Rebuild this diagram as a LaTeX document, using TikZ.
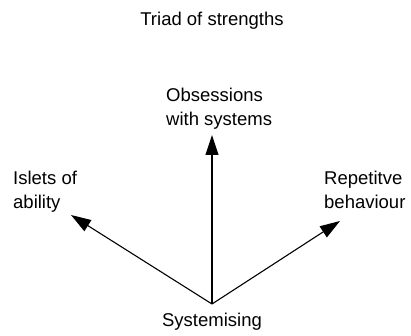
\documentclass[tikz,border=0pt]{standalone}
\usepackage{fontspec}
\setmainfont{Liberation Sans}
\usetikzlibrary{arrows.meta}
\begin{document}
\begin{tikzpicture}[x=1pt,y=1pt,
  lbl/.style={inner sep=0pt, align=left, font=\fontsize{18.5}{24}\selectfont},
  arr/.style={line width=1.1pt, -{Triangle[length=20pt,width=13pt]}}]
\useasboundingbox (0,0) rectangle (411,336);
\node[lbl, anchor=base] (title) at (212,310) {Triad of strengths};
\node[lbl, anchor=north west] (obs) at (166,248) {Obsessions\\with systems};
\node[lbl, anchor=north west] (isl) at (13,165) {Islets of\\ability};
\node[lbl, anchor=north west] (rep) at (324,165) {Repetitve\\behaviour};
\node[lbl, anchor=base] (sys) at (212,9) {Systemising};
\coordinate (v) at (212,32);
\coordinate (tu) at (212,201);
\coordinate (tl) at (71,121);
\coordinate (tr) at (340,115);
\draw[arr] (v) -- (tu);
\draw[arr] (v) -- (tl);
\draw[arr] (v) -- (tr);
\end{tikzpicture}
\end{document}
